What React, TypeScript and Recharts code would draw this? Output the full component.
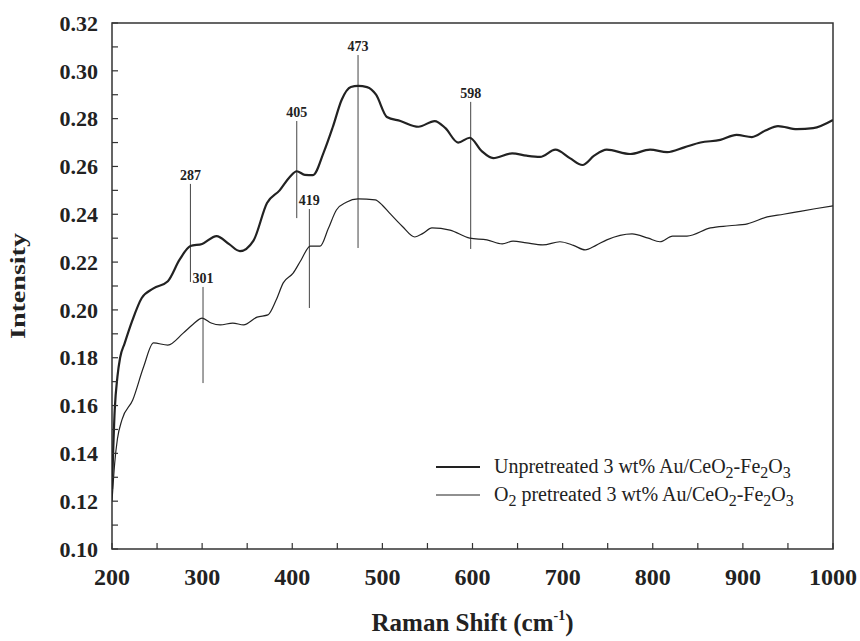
import React from 'react';
import { LineChart, Line, XAxis, YAxis, ReferenceLine, ReferenceArea, Legend } from 'recharts';

// Raman spectra of 3 wt% Au/CeO2-Fe2O3 catalysts
const upperShift = [200, 203, 206, 209, 214, 222, 233, 246, 262, 275, 287, 300, 316, 330, 342, 357, 372, 386, 397, 405, 414, 423, 435, 445, 455, 465, 473, 483, 493, 505, 520, 540, 558, 570, 584, 597, 610, 623, 644, 660, 675, 692, 708, 722, 735, 749, 775, 797, 816, 835, 853, 875, 893, 910, 925, 939, 960, 978, 1000];
const upperIntensity = [0.125, 0.158, 0.172, 0.18, 0.186, 0.195, 0.205, 0.209, 0.212, 0.221, 0.2267, 0.2276, 0.2309, 0.2275, 0.2246, 0.229, 0.2447, 0.25, 0.2555, 0.258, 0.2565, 0.2564, 0.266, 0.2765, 0.288, 0.2932, 0.2937, 0.2932, 0.29, 0.2807, 0.279, 0.2766, 0.279, 0.276, 0.27, 0.272, 0.2665, 0.2635, 0.2655, 0.2645, 0.264, 0.267, 0.2635, 0.2606, 0.2645, 0.267, 0.2652, 0.267, 0.266, 0.268, 0.27, 0.2711, 0.2732, 0.2723, 0.275, 0.2769, 0.2756, 0.276, 0.2794];

const lowerShift = [200, 203, 206, 211, 223, 235, 246, 262, 279, 290, 300, 310, 320, 334, 346, 361, 373, 382, 390, 401, 410, 420, 431, 440, 449, 460, 473, 492, 500, 508, 522, 536, 545, 555, 575, 597, 616, 633, 645, 660, 678, 697, 712, 725, 737, 749, 777, 795, 808, 822, 838, 864, 885, 905, 927, 945, 960, 980, 1000];
const lowerIntensity = [0.12, 0.136, 0.146, 0.154, 0.1623, 0.1761, 0.1862, 0.1853, 0.1903, 0.194, 0.1966, 0.1945, 0.1937, 0.1945, 0.1937, 0.197, 0.1979, 0.204, 0.2113, 0.2154, 0.221, 0.2267, 0.2267, 0.234, 0.2418, 0.245, 0.2464, 0.246, 0.2438, 0.2405, 0.235, 0.2305, 0.232, 0.2343, 0.2334, 0.23, 0.2293, 0.2276, 0.2288, 0.228, 0.2272, 0.2285, 0.227, 0.2251, 0.227, 0.2293, 0.2318, 0.23, 0.2285, 0.2309, 0.2309, 0.2343, 0.2352, 0.236, 0.2389, 0.24, 0.241, 0.2423, 0.2435];

// Band markers: position, label, and vertical extent of the marker line
const peakShift = [287, 301, 405, 419, 473, 598];
const peakLabel = ['287', '301', '405', '419', '473', '598'];
const peakTop = [0.2527, 0.2096, 0.279, 0.2422, 0.3066, 0.287];
const peakBottom = [0.2117, 0.1694, 0.2384, 0.2008, 0.2259, 0.2255];

const xTicks = [200, 250, 300, 350, 400, 450, 500, 550, 600, 650, 700, 750, 800, 850, 900, 950, 1000];
const yTicks = [0.1, 0.11, 0.12, 0.13, 0.14, 0.15, 0.16, 0.17, 0.18, 0.19, 0.2, 0.21, 0.22, 0.23, 0.24, 0.25, 0.26, 0.27, 0.28, 0.29, 0.3, 0.31, 0.32];

// Legend entries; {sub} parts are subscripts
type Part = string | { sub: string };
const legendUnpretreated: Part[] = ['Unpretreated 3 wt% Au/CeO', { sub: '2' }, '-Fe', { sub: '2' }, 'O', { sub: '3' }];
const legendPretreated: Part[] = ['O', { sub: '2' }, ' pretreated 3 wt% Au/CeO', { sub: '2' }, '-Fe', { sub: '2' }, 'O', { sub: '3' }];

const upperData = upperShift.map((x, i) => ({ x, y: upperIntensity[i] }));
const lowerData = lowerShift.map((x, i) => ({ x, y: lowerIntensity[i] }));

const SERIF = '"Liberation Serif", "Times New Roman", serif';
const INK = '#222';
const AXIS = '#333';

const XTick = (props: any) => {
  const { x, y, payload } = props;
  const v = payload.value as number;
  const labelled = v % 100 === 0;
  return (
    <g>
      <line x1={x} x2={x} y1={y} y2={y - 6} stroke={AXIS} strokeWidth={1.2} />
      {labelled && (
        <text x={x} y={y + 36} textAnchor="middle" fontFamily={SERIF} fontWeight="bold" fontSize={24} fill={INK}>
          {v}
        </text>
      )}
    </g>
  );
};

const YTick = (props: any) => {
  const { x, y, payload } = props;
  const v = payload.value as number;
  const labelled = Math.round(v * 100) % 2 === 0;
  return (
    <g>
      <line x1={x} x2={x + 6} y1={y} y2={y} stroke={AXIS} strokeWidth={1.2} />
      {labelled && (
        <text x={x - 14} y={y} dy="0.35em" textAnchor="end" fontFamily={SERIF} fontWeight="bold" fontSize={22} fill={INK}>
          {v.toFixed(2)}
        </text>
      )}
    </g>
  );
};

const XTitle = (props: any) => {
  const vb = props.viewBox || { x: 112, y: 549, width: 721, height: 92 };
  const cx = vb.x + vb.width / 2;
  return (
    <text x={cx} y={vb.y + 82} textAnchor="middle" fontFamily={SERIF} fontWeight="bold" fontSize={25} fill={INK}>
      Raman Shift (cm
      <tspan fontSize={14} dy={-11}>-1</tspan>
      <tspan dy={11}>)</tspan>
    </text>
  );
};

const YTitle = (props: any) => {
  const vb = props.viewBox || { x: 0, y: 23, width: 112, height: 526 };
  const cy = vb.y + vb.height / 2;
  const cx = 25;
  return (
    <text
      x={cx}
      y={cy}
      transform={`rotate(-90 ${cx} ${cy})`}
      textAnchor="middle"
      fontFamily={SERIF}
      fontWeight="bold"
      fontSize={21}
      textLength={106}
      lengthAdjust="spacingAndGlyphs"
      fill={INK}
    >
      Intensity
    </text>
  );
};

const renderParts = (parts: Part[]) =>
  parts.map((p, i) =>
    typeof p === 'string' ? (
      <span key={i}>{p}</span>
    ) : (
      <span key={i} style={{ fontSize: '0.8em', position: 'relative', top: '0.3em' }}>
        {p.sub}
      </span>
    )
  );

const legendRows = [
  { parts: legendUnpretreated, width: 2.2 },
  { parts: legendPretreated, width: 1.2 },
];

const LegendBox = () => (
  <div style={{ fontFamily: SERIF, fontSize: 20, color: INK }}>
    {legendRows.map((row, i) => (
      <div key={i} style={{ display: 'flex', alignItems: 'center', height: 28, whiteSpace: 'nowrap' }}>
        <svg width={44} height={10} style={{ display: 'block' }}>
          <line x1={0} x2={44} y1={5} y2={5} stroke={INK} strokeWidth={row.width} />
        </svg>
        <span style={{ marginLeft: 14, lineHeight: '20px' }}>{renderParts(row.parts)}</span>
      </div>
    ))}
  </div>
);

export default function App() {
  return (
    <div style={{ position: 'absolute', left: 0, top: 0, width: 860, height: 641, background: '#fff' }}>
      <LineChart width={860} height={641} margin={{ top: 23, right: 27, bottom: 0, left: 0 }}>
        <XAxis
          dataKey="x"
          type="number"
          domain={[200, 1000]}
          ticks={xTicks}
          interval={0}
          allowDataOverflow
          height={92}
          axisLine={false}
          tickLine={false}
          tickSize={0}
          tickMargin={0}
          tick={<XTick />}
          label={<XTitle />}
        />
        <YAxis
          type="number"
          domain={[0.1, 0.32]}
          ticks={yTicks}
          interval={0}
          allowDataOverflow
          width={112}
          axisLine={false}
          tickLine={false}
          tickSize={0}
          tickMargin={0}
          tick={<YTick />}
          label={<YTitle />}
        />
        <ReferenceArea x1={200} x2={1000} y1={0.1} y2={0.32} fill="none" stroke={AXIS} strokeWidth={1.5} fillOpacity={0} />
        {peakShift.map((s, i) => (
          <ReferenceLine
            key={s}
            segment={[
              { x: s, y: peakTop[i] },
              { x: s, y: peakBottom[i] },
            ]}
            stroke="#444"
            strokeWidth={1}
            label={{ value: peakLabel[i], position: 'top', offset: 4, fontFamily: SERIF, fontWeight: 'bold', fontSize: 14, fill: INK }}
          />
        ))}
        <Line data={upperData} dataKey="y" type="monotone" dot={false} stroke={INK} strokeWidth={2.2} isAnimationActive={false} />
        <Line data={lowerData} dataKey="y" type="monotone" dot={false} stroke={INK} strokeWidth={1.2} isAnimationActive={false} />
        <Legend
          layout="vertical"
          align="center"
          verticalAlign="middle"
          content={<LegendBox />}
          wrapperStyle={{ left: 436, top: 453, width: 400 }}
        />
      </LineChart>
    </div>
  );
}
